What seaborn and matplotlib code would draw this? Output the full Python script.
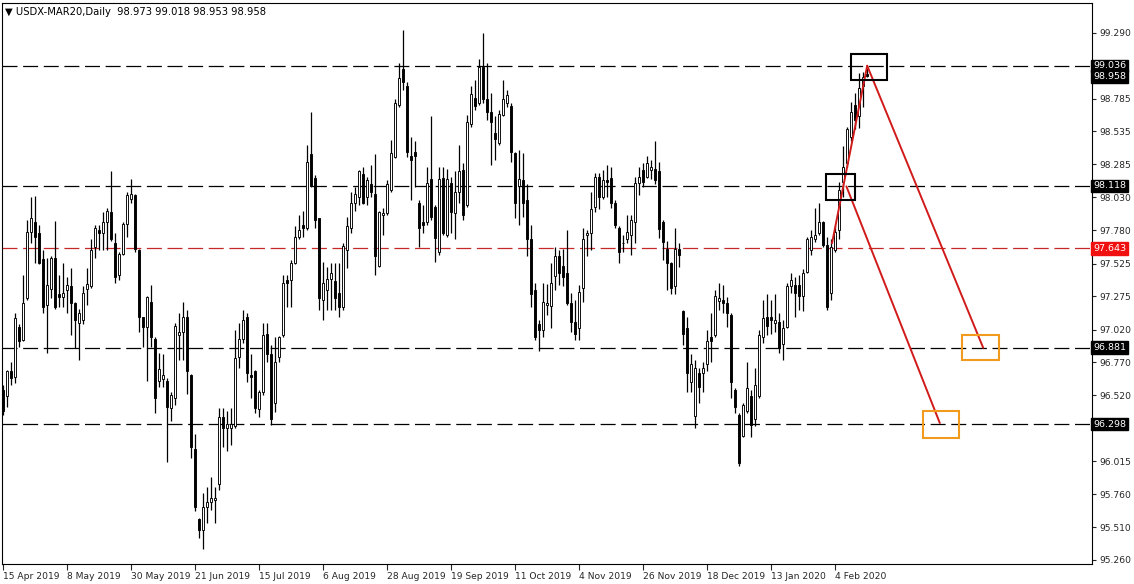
import matplotlib
matplotlib.use("Agg")
import matplotlib.pyplot as plt
import matplotlib.transforms as mtransforms
from matplotlib.patches import Rectangle
import numpy as np
import pandas as pd
import seaborn as sns

# ==============================
# DATA  (USDX-MAR20, daily bars)
# ==============================
opens = [
    96.56, 96.51, 96.70, 96.66, 97.04, 96.94, 97.26, 97.77, 97.84, 97.76,
    97.56, 97.21, 97.33, 97.57, 97.29, 97.27, 97.32, 97.35, 97.22, 97.07,
    97.09, 97.33, 97.35, 97.65, 97.78, 97.76, 97.84, 97.92, 97.68, 97.44,
    97.60, 97.83, 98.02, 98.05, 97.63, 97.12, 97.04, 97.23, 96.95, 96.63,
    96.64, 96.63, 96.42, 96.50, 96.98, 97.00, 97.12, 96.67, 96.11, 95.57,
    95.49, 95.66, 95.70, 95.72, 95.84, 96.35, 96.27, 96.27, 96.28, 96.81,
    96.95, 97.12, 96.67, 96.70, 96.41, 96.54, 96.99, 96.83, 96.46, 96.81,
    96.98, 97.40, 97.40, 97.53, 97.73, 97.82, 97.80, 98.36, 98.18, 97.87,
    97.25, 97.32, 97.41, 97.39, 97.30, 97.19, 97.63, 97.80, 97.99, 98.03,
    98.21, 98.03, 98.13, 98.06, 97.51, 97.90, 97.91, 98.09, 98.34, 98.74,
    99.01, 98.88, 98.35, 98.38, 97.99, 97.84, 97.84, 98.17, 97.96, 97.61,
    98.18, 97.74, 98.14, 97.91, 98.07, 98.24, 97.97, 98.59, 98.79, 98.75,
    99.03, 98.78, 98.68, 98.52, 98.45, 98.66, 98.75, 98.73, 98.37, 98.12,
    98.16, 98.01, 97.71, 97.32, 97.06, 97.02, 97.21, 97.20, 97.43, 97.58,
    97.51, 97.45, 97.22, 97.08, 97.03, 97.34, 97.74, 97.76, 97.96, 98.19,
    98.03, 98.16, 98.18, 97.99, 97.80, 97.68, 97.71, 97.74, 97.84, 98.14,
    98.24, 98.19, 98.24, 98.25, 98.23, 97.84, 97.64, 97.53, 97.35, 97.64,
    97.16, 97.03, 96.62, 96.36, 96.69, 96.69, 96.76, 96.96, 96.98, 97.24,
    97.25, 97.22, 97.13, 96.56, 96.37, 96.21, 96.40, 96.51, 96.34, 96.51,
    96.96, 97.12, 97.12, 97.07, 97.08, 96.91, 97.04, 97.35, 97.36, 97.36,
    97.28, 97.46, 97.63, 97.71, 97.76, 97.84, 97.67, 97.30, 97.63, 97.78,
    98.15, 98.29, 98.49, 98.74, 98.65, 98.88, 98.973,
]
highs = [
    96.60, 96.71, 96.77, 97.15, 97.06, 97.44, 97.86, 98.03, 98.04, 97.82,
    97.63, 97.57, 97.58, 97.85, 97.44, 97.53, 97.42, 97.49, 97.23, 97.18,
    97.35, 97.49, 97.71, 97.82, 97.82, 97.92, 97.95, 98.23, 97.76, 97.61,
    97.84, 98.07, 98.17, 98.06, 97.64, 97.12, 97.28, 97.36, 96.96, 96.84,
    96.83, 96.65, 96.54, 97.07, 97.15, 97.23, 97.17, 96.68, 96.22, 95.58,
    95.77, 95.82, 95.89, 95.82, 96.42, 96.42, 96.40, 96.42, 97.02, 97.07,
    97.17, 97.15, 96.83, 96.71, 96.56, 97.07, 97.07, 96.90, 96.96, 96.97,
    97.44, 97.44, 97.55, 97.81, 97.90, 97.93, 98.43, 98.68, 98.20, 97.87,
    97.54, 97.50, 97.53, 97.53, 97.53, 97.68, 97.88, 98.07, 98.11, 98.24,
    98.26, 98.19, 98.28, 98.36, 97.93, 97.95, 98.16, 98.47, 98.78, 99.06,
    99.31, 98.91, 98.49, 98.46, 98.01, 97.97, 98.26, 98.65, 97.97, 98.26,
    98.26, 98.25, 98.19, 98.23, 98.43, 98.29, 98.66, 98.88, 98.93, 99.09,
    99.29, 99.06, 98.83, 98.65, 98.70, 98.93, 98.85, 98.75, 98.38, 98.39,
    98.37, 98.13, 97.82, 97.38, 97.09, 97.38, 97.37, 97.53, 97.65, 97.63,
    97.64, 97.78, 97.30, 97.25, 97.36, 97.80, 97.78, 98.07, 98.22, 98.22,
    98.24, 98.28, 98.26, 98.01, 97.81, 97.74, 97.90, 97.90, 98.19, 98.26,
    98.29, 98.35, 98.32, 98.46, 98.30, 97.86, 97.70, 97.54, 97.80, 97.68,
    97.17, 97.12, 96.83, 96.79, 96.73, 96.77, 97.02, 97.15, 97.32, 97.38,
    97.36, 97.27, 97.15, 96.57, 96.38, 96.46, 96.77, 96.56, 96.73, 97.02,
    97.25, 97.29, 97.25, 97.29, 97.15, 97.09, 97.38, 97.45, 97.42, 97.44,
    97.48, 97.73, 97.78, 97.95, 97.99, 97.85, 97.73, 97.71, 97.81, 98.15,
    98.42, 98.57, 98.76, 98.83, 98.98, 98.99, 99.018,
]
lows = [
    96.37, 96.43, 96.60, 96.61, 96.89, 96.93, 97.25, 97.68, 97.53, 97.52,
    97.15, 96.84, 97.26, 97.18, 97.19, 97.19, 97.15, 96.98, 96.88, 96.79,
    97.06, 97.21, 97.34, 97.57, 97.63, 97.63, 97.63, 97.70, 97.38, 97.40,
    97.59, 97.73, 97.99, 97.61, 97.00, 96.89, 96.63, 96.89, 96.38, 96.58,
    96.58, 96.01, 96.32, 96.44, 96.79, 96.79, 96.53, 96.04, 95.63, 95.43,
    95.34, 95.54, 95.64, 95.54, 95.79, 96.12, 96.09, 96.14, 96.27, 96.73,
    96.92, 96.62, 96.50, 96.38, 96.35, 96.52, 96.77, 96.29, 96.39, 96.77,
    96.96, 97.19, 97.19, 97.52, 97.71, 97.73, 97.78, 98.11, 97.80, 97.17,
    97.09, 97.17, 97.17, 97.17, 97.12, 97.17, 97.49, 97.76, 97.93, 97.97,
    97.98, 97.97, 98.03, 97.44, 97.50, 97.74, 97.90, 98.07, 98.33, 98.72,
    98.85, 98.34, 98.01, 98.11, 97.65, 97.76, 97.82, 97.86, 97.54, 97.59,
    97.74, 97.73, 97.76, 97.71, 97.99, 97.86, 97.96, 98.57, 98.70, 98.74,
    98.75, 98.62, 98.28, 98.32, 98.43, 98.65, 98.72, 98.30, 97.87, 97.82,
    97.88, 97.58, 97.19, 96.94, 96.86, 96.96, 97.13, 97.03, 97.32, 97.36,
    97.35, 97.21, 97.00, 96.94, 96.94, 97.23, 97.58, 97.63, 97.92, 97.94,
    98.02, 98.03, 97.95, 97.80, 97.53, 97.61, 97.68, 97.59, 97.68, 98.05,
    98.11, 98.18, 98.17, 98.13, 97.72, 97.55, 97.32, 97.29, 97.29, 97.50,
    96.90, 96.54, 96.54, 96.27, 96.46, 96.54, 96.70, 96.77, 96.96, 97.17,
    97.15, 97.04, 96.50, 96.38, 95.98, 96.20, 96.38, 96.20, 96.28, 96.50,
    96.92, 96.98, 96.99, 97.00, 96.84, 96.79, 97.03, 97.30, 97.12, 97.17,
    97.16, 97.45, 97.59, 97.69, 97.74, 97.65, 97.17, 97.25, 97.61, 97.71,
    98.03, 98.26, 98.46, 98.55, 98.56, 98.72, 98.953,
]
closes = [
    96.40, 96.70, 96.65, 97.11, 96.93, 97.22, 97.77, 97.87, 97.73, 97.53,
    97.19, 97.36, 97.57, 97.19, 97.27, 97.30, 97.36, 97.22, 97.09, 97.15,
    97.30, 97.37, 97.63, 97.80, 97.76, 97.84, 97.93, 97.71, 97.42, 97.60,
    97.83, 98.05, 98.06, 97.64, 97.12, 97.04, 97.27, 96.96, 96.50, 96.72,
    96.67, 96.43, 96.52, 97.05, 97.00, 97.12, 96.70, 96.12, 95.66, 95.49,
    95.66, 95.70, 95.73, 95.73, 96.35, 96.27, 96.30, 96.30, 96.80, 96.95,
    97.09, 96.69, 96.66, 96.42, 96.54, 96.98, 96.83, 96.34, 96.77, 96.96,
    97.38, 97.38, 97.53, 97.73, 97.78, 97.80, 98.30, 98.12, 97.86, 97.26,
    97.38, 97.41, 97.45, 97.26, 97.19, 97.66, 97.81, 97.99, 98.06, 98.23,
    97.99, 98.16, 98.07, 97.58, 97.92, 97.91, 98.13, 98.37, 98.75, 98.94,
    98.91, 98.38, 98.32, 98.35, 97.80, 97.82, 98.14, 97.88, 97.72, 98.17,
    97.76, 98.17, 97.92, 98.07, 98.23, 97.90, 98.61, 98.82, 98.73, 99.03,
    98.78, 98.68, 98.61, 98.48, 98.67, 98.78, 98.81, 98.38, 97.99, 98.17,
    97.99, 97.71, 97.29, 96.96, 97.02, 97.23, 97.22, 97.38, 97.58, 97.45,
    97.42, 97.22, 97.08, 96.99, 97.31, 97.71, 97.76, 97.94, 98.19, 98.03,
    98.16, 98.15, 97.99, 97.82, 97.61, 97.68, 97.77, 97.86, 98.14, 98.19,
    98.15, 98.29, 98.26, 98.16, 97.79, 97.69, 97.53, 97.34, 97.64, 97.59,
    96.99, 96.69, 96.76, 96.73, 96.58, 96.73, 96.93, 96.93, 97.28, 97.26,
    97.22, 97.15, 96.62, 96.43, 96.00, 96.44, 96.57, 96.29, 96.60, 96.98,
    97.11, 97.05, 97.09, 97.09, 96.88, 97.03, 97.35, 97.40, 97.30, 97.28,
    97.45, 97.71, 97.73, 97.74, 97.84, 97.67, 97.19, 97.65, 97.77, 98.09,
    98.26, 98.55, 98.68, 98.62, 98.87, 98.95, 98.958,
]

date_labels = [
    "15 Apr 2019", "8 May 2019", "30 May 2019", "21 Jun 2019", "15 Jul 2019",
    "6 Aug 2019", "28 Aug 2019", "19 Sep 2019", "11 Oct 2019", "4 Nov 2019",
    "26 Nov 2019", "18 Dec 2019", "13 Jan 2020", "4 Feb 2020",
]
bars_per_label = 16

# 96.265 sits under the 96.298 level tag, so it carries no text of its own
price_ticks = [99.290, 98.785, 98.535, 98.285, 98.030, 97.780, 97.525, 97.275,
               97.020, 96.770, 96.520, 96.265, 96.015, 95.760, 95.510, 95.260]
hidden_ticks = [96.265]

black_levels = [99.036, 98.118, 96.881, 96.298]
red_level = 97.643
last_price = 98.958

# trend projections (bar index, price)
trend_x = [[207.3, 216.1], [210.9, 234.25], [216.1, 245.1]]
trend_y = [[97.68, 99.037], [98.115, 96.306], [99.037, 96.881]]

# marker boxes: (bar_from, bar_to, price_low, price_high)
black_boxes = [(212.0, 221.0, 98.93, 99.13), (205.9, 213.1, 98.01, 98.21)]
orange_boxes = [(239.9, 249.1, 96.79, 96.98), (230.1, 239.1, 96.19, 96.40)]

df = pd.DataFrame({"open": opens, "high": highs, "low": lows, "close": closes})
df["bar"] = np.arange(len(df))
df["up"] = df["close"] >= df["open"]

# ==============================
# STYLE
# ==============================
sns.set_style("ticks")
plt.rcParams["font.family"] = ["DejaVu Sans"]
plt.rcParams["axes.edgecolor"] = "black"
plt.rcParams["axes.linewidth"] = 0.8

fig = plt.figure(figsize=(11.34, 5.84), dpi=100)
ax = fig.add_axes([2 / 1134, 20 / 584, 1090 / 1134, 561 / 584])

# candles
ax.vlines(df["bar"], df["low"], df["high"], color="black", linewidth=0.9, zorder=2)
body_bottom = df[["open", "close"]].min(axis=1)
body_height = (df["close"] - df["open"]).abs().clip(lower=0.004)
ax.bar(df["bar"], body_height, bottom=body_bottom, width=0.62,
       color=np.where(df["up"], "white", "black"), edgecolor="black",
       linewidth=0.65, zorder=3)

# horizontal levels
for lv in black_levels:
    ax.axhline(lv, color="black", linewidth=0.9, dashes=(12, 4.5), zorder=1)
ax.axhline(red_level, color="#c62828", linewidth=0.9, dashes=(12, 4.5), zorder=1)

# trend lines
for xs, ys in zip(trend_x, trend_y):
    ax.plot(xs, ys, color="#d11a1a", linewidth=1.4, zorder=5)

for x0, x1, y0, y1 in black_boxes:
    ax.add_patch(Rectangle((x0, y0), x1 - x0, y1 - y0, fill=False,
                           edgecolor="black", linewidth=1.5, zorder=6))
for x0, x1, y0, y1 in orange_boxes:
    ax.add_patch(Rectangle((x0, y0), x1 - x0, y1 - y0, fill=False,
                           edgecolor="#f29a1d", linewidth=1.5, zorder=6))

# axes ranges
n_slots = 1090 / 4
ax.set_xlim(-0.2, n_slots - 0.2)
ax.set_ylim(95.228, 99.517)

# x ticks
xt = [k * bars_per_label for k in range(len(date_labels))]
ax.set_xticks(xt)
ax.set_xticklabels(date_labels, fontsize=6.6)
for lab in ax.get_xticklabels():
    lab.set_horizontalalignment("left")
ax.tick_params(axis="x", direction="out", length=4, width=0.8, pad=1.5)

# y ticks on the right
ax.yaxis.tick_right()
ax.set_yticks(price_ticks)
ax.set_yticklabels(["" if v in hidden_ticks else f"{v:.3f}" for v in price_ticks],
                   fontsize=6.6)
ax.tick_params(axis="y", direction="out", length=3, width=0.8, pad=2)
for s in ["top", "right", "left", "bottom"]:
    ax.spines[s].set_visible(True)
    ax.spines[s].set_color("black")

# right-hand price labels
trans = mtransforms.blended_transform_factory(ax.transAxes, ax.transData)
for lv in black_levels + [last_price]:
    ax.text(1.0012, lv, f"{lv:.3f}", transform=trans, ha="left", va="center",
            fontsize=6.8, color="white", clip_on=False, zorder=10,
            bbox=dict(boxstyle="square,pad=0.2", fc="black", ec="black"))
ax.text(1.0012, red_level, f"{red_level:.3f}", transform=trans, ha="left",
        va="center", fontsize=6.8, color="white", clip_on=False, zorder=10,
        bbox=dict(boxstyle="square,pad=0.2", fc="#f01010", ec="#f01010"))

# header
ax.text(0.003, 0.992, "\u25bc USDX-MAR20,Daily  98.973 99.018 98.953 98.958",
        transform=ax.transAxes, ha="left", va="top", fontsize=7.2, color="black")

ax.set_xlabel("")
ax.set_ylabel("")
fig.savefig("out.png", dpi=100, facecolor="white")
